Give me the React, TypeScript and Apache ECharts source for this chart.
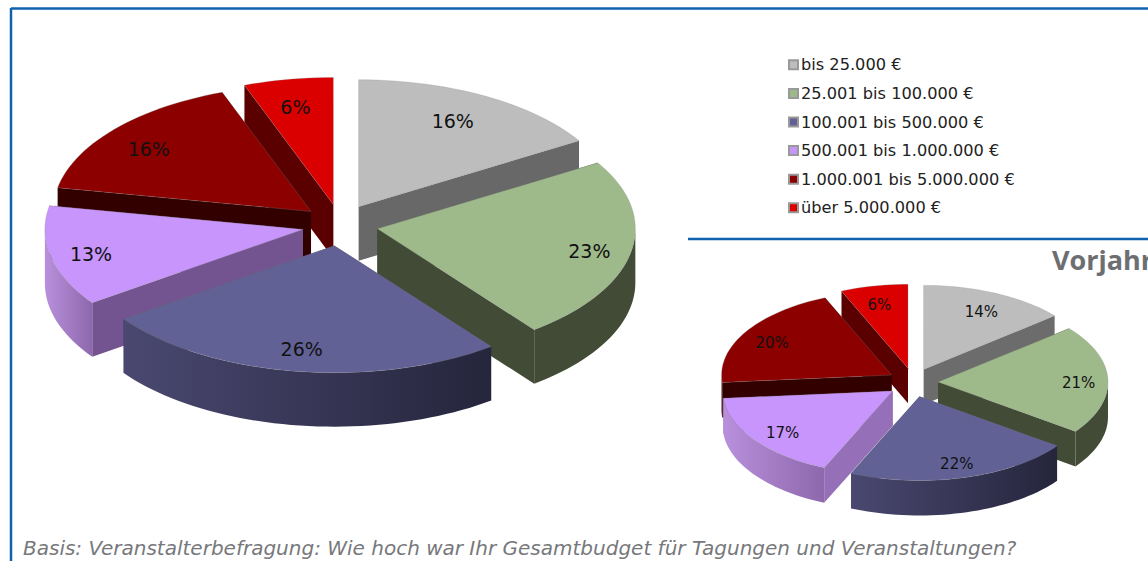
import React, { useEffect, useRef } from "react";
import * as echarts from "echarts";

const categories = [
  "bis 25.000 €",
  "25.001 bis 100.000 €",
  "100.001 bis 500.000 €",
  "500.001 bis 1.000.000 €",
  "1.000.001 bis 5.000.000 €",
  "über 5.000.000 €",
];
// Shares as measured from the slice angles; the labels show them rounded.
const currentShares = [16.3, 23.3, 25.6, 12.8, 16.4, 5.6];
const previousShares = [14, 21, 21.6, 17, 20, 6.4];
const yearLabel = "Vorjahr";
const footnote = "Basis: Veranstalterbefragung: Wie hoch war Ihr Gesamtbudget für Tagungen und Veranstaltungen?";

const topColors = ["#BDBDBD", "#9EB98A", "#626196", "#C795FB", "#8C0000", "#DB0000"];
const radialColorsCurrent = ["#686868", "#414B36", "#2A2A40", "#735490", "#330000", "#5A0000"];
const radialColorsPrevious = ["#6C6C6C", "#414B36", "#2A2A40", "#9570B8", "#330000", "#5A0000"];
const wallFrom = ["#777777", "#414B36", "#4A4870", "#B890DC", "#3A0000", "#5A0000"];
const wallTo = ["#666666", "#414B36", "#25253C", "#8E68AC", "#3A0000", "#5A0000"];
const paintOrder = [5, 4, 3, 0, 1, 2];
const labelNudgeCurrent = [-12, -1, 0, 0, 3, 0];
const labelNudgePrevious = [-3, -2, 0, 6, 3, 0];

const pies = [
  { cx: 340, cy: 225, rx: 258, ry: 127, h: 54, explode: 38, k: 0.55, font: 19, radial: radialColorsCurrent, nudge: labelNudgeCurrent },
  { cx: 913, cy: 382.5, rx: 170, ry: 84, h: 35, explode: 25, k: 0.58, font: 15, radial: radialColorsPrevious, nudge: labelNudgePrevious },
];
const shareLists = [currentShares, previousShares];
const TEXT_FONT = "'DejaVu Sans'";
const LABEL_X = 0.84;
const LABEL_Y = 0.8;
const LABEL_DY = 3;

const rad = (deg: number) => (deg * Math.PI) / 180;

function startOf(list: number[], idx: number) {
  const total = list.reduce((a, b) => a + b, 0);
  return (list.slice(0, idx).reduce((a, b) => a + b, 0) / total) * 360;
}

function sweepOf(list: number[], idx: number) {
  const total = list.reduce((a, b) => a + b, 0);
  return (list[idx] / total) * 360;
}

function renderSlice(catIdx: number) {
  return (_params: any, api: any) => {
    const pie = pies[api.value(0)];
    const start = api.value(1);
    const sweep = api.value(2);
    const end = start + sweep;
    const mid = start + sweep / 2;
    const ax = pie.cx + pie.explode * Math.sin(rad(mid));
    const ay = pie.cy - pie.explode * pie.k * Math.cos(rad(mid));
    const pt = (deg: number, dz = 0): number[] => [
      ax + pie.rx * Math.sin(rad(deg)),
      ay - pie.ry * Math.cos(rad(deg)) + dz,
    ];
    const arc = (a: number, b: number, dz = 0) => {
      const out: number[][] = [];
      const n = Math.max(2, Math.ceil((b - a) / 2));
      for (let i = 0; i <= n; i++) out.push(pt(a + ((b - a) * i) / n, dz));
      return out;
    };
    const radial = (deg: number) => ({
      type: "polygon",
      shape: { points: [[ax, ay], pt(deg), pt(deg, pie.h), [ax, ay + pie.h]] },
      style: { fill: pie.radial[catIdx] },
    });
    const children: any[] = [radial(start), radial(end)];
    const a = Math.max(start, 90);
    const b = Math.min(end, 270);
    if (b > a) {
      children.push({
        type: "polygon",
        shape: { points: [...arc(a, b), ...arc(a, b, pie.h).reverse()] },
        style: {
          fill: new echarts.graphic.LinearGradient(0, 0, 1, 0, [
            { offset: 0, color: wallFrom[catIdx] },
            { offset: 1, color: wallTo[catIdx] },
          ]),
        },
      });
    }
    children.push({
      type: "polygon",
      shape: { points: [[ax, ay], ...arc(start, end)] },
      style: { fill: topColors[catIdx], stroke: "rgba(140,140,140,0.45)", lineWidth: 0.6 },
    });
    children.push({
      type: "text",
      style: {
        x: ax + pie.rx * LABEL_X * Math.sin(rad(mid)) + pie.nudge[catIdx],
        y: ay - pie.ry * LABEL_Y * Math.cos(rad(mid)) + LABEL_DY,
        text: `${Math.round(api.value(3))}%`,
        fill: "#111111",
        font: `${pie.font}px ${TEXT_FONT}`,
        align: "center",
        verticalAlign: "middle",
      },
    });
    return { type: "group", children };
  };
}

export default function App() {
  const ref = useRef<HTMLDivElement>(null);
  useEffect(() => {
    document.body.style.margin = "0";
    const chart = echarts.init(ref.current!, undefined, { renderer: "svg" });
    chart.setOption({
      animation: false,
      backgroundColor: "#FFFFFF",
      legend: {
        data: categories,
        orient: "vertical",
        left: 788,
        top: 55,
        itemWidth: 9,
        itemHeight: 9,
        itemGap: 9,
        padding: 0,
        icon: "rect",
        selectedMode: false,
        textStyle: { fontFamily: TEXT_FONT, fontSize: 16.2, color: "#222222", height: 16.6, lineHeight: 16.6, padding: [3, 0, 0, -2] },
      },
      graphic: [
        { type: "line", shape: { x1: 11, y1: 8.5, x2: 1148, y2: 8.5 }, style: { stroke: "#0F62AE", lineWidth: 2.5 } },
        { type: "line", shape: { x1: 11, y1: 8, x2: 11, y2: 561 }, style: { stroke: "#0F62AE", lineWidth: 2.5 } },
        { type: "line", shape: { x1: 688, y1: 239, x2: 1148, y2: 239 }, style: { stroke: "#0F62AE", lineWidth: 2.5 } },
        {
          type: "text",
          x: 1052,
          y: 246,
          style: { text: yearLabel, fill: "#6D6E71", font: "bold 27px 'Open Sans'" },
        },
        {
          type: "text",
          x: 23,
          y: 538,
          style: { text: footnote, fill: "#77787B", font: "italic 20px " + TEXT_FONT },
        },
      ],
      series: paintOrder.map((catIdx) => ({
        type: "custom",
        name: categories[catIdx],
        coordinateSystem: "none",
        silent: true,
        itemStyle: { color: topColors[catIdx], borderColor: "#999999", borderWidth: 1.5 },
        renderItem: renderSlice(catIdx),
        data: shareLists.map((list, pieIdx) => [
          pieIdx,
          startOf(list, catIdx),
          sweepOf(list, catIdx),
          list[catIdx],
        ]),
      })),
    });
    return () => chart.dispose();
  }, []);
  return <div ref={ref} style={{ width: 1148, height: 561 }} />;
}
